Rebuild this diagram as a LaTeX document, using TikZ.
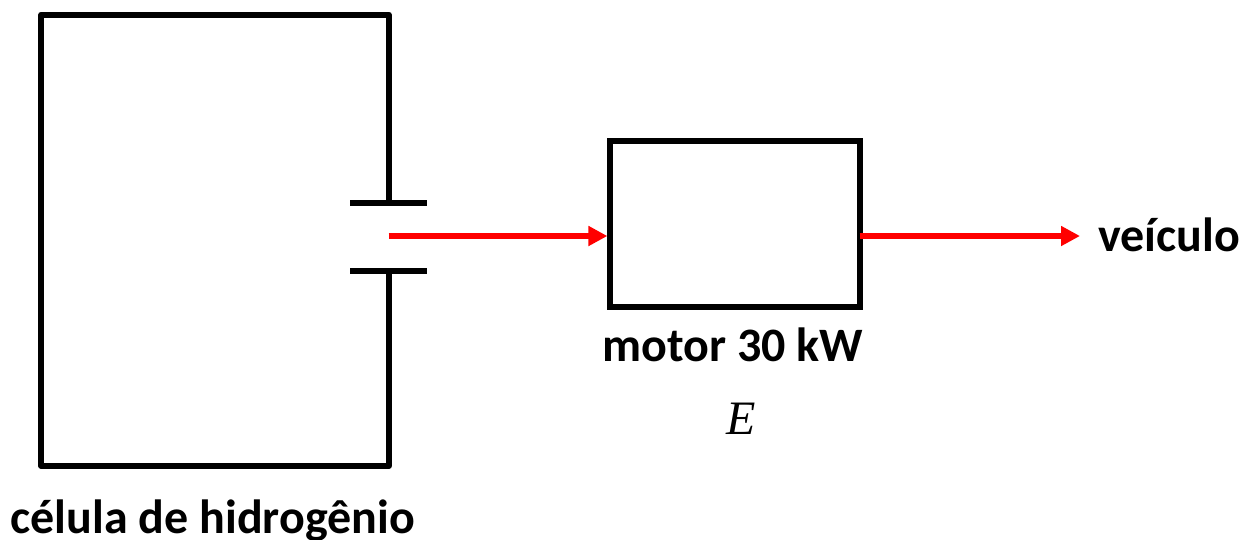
\documentclass[tikz,border=0pt]{standalone}
\usepackage{fontspec}
\setmainfont{Carlito}
\newfontfamily\effserif{Liberation Serif}
\usepackage{xcolor}
\usetikzlibrary{arrows.meta,positioning}
\definecolor{flowRed}{RGB}{255,0,0}
\tikzset{
    wire/.style={black, line width=6pt, line join=round},
    flow/.style={flowRed, line width=6pt, -{Triangle[length=19pt,width=19pt]}},
    lbl/.style={inner sep=0pt, anchor=base, font=\fontsize{48}{52}\selectfont\bfseries}
}
\begin{document}
\begin{tikzpicture}[x=1pt,y=-1pt]
    \useasboundingbox (0,0) rectangle (1243,539);

    % fuel cell
    \coordinate (plateTopL) at (350,202.5);
    \coordinate (plateTopR) at (426.5,202.5);
    \coordinate (plateBotL) at (350,270.5);
    \coordinate (plateBotR) at (426.5,270.5);
    \coordinate (termOut) at (388.5,236);
    \draw[wire] (388.7,202.5)--(388.7,14.5)--(41.3,14.5)--(41.3,465.8)--(388.7,465.8)--(388.7,270.5);
    \draw[wire] (plateTopL)--(plateTopR);
    \draw[wire] (plateBotL)--(plateBotR);

    % motor
    \node[draw=black, line width=6pt, minimum width=249.3pt, minimum height=165.5pt, inner sep=0pt, anchor=north west] (motorBox) at (607.4,138) {};

    % labels
    \node[lbl] (cellLabel) at (212.8,533) {célula de hidrogênio};
    \node[lbl] (motorLabel) at (733,361) {motor 30 kW};
    \node[inner sep=0pt, anchor=base, font=\fontsize{48}{52}\effserif\itshape] (effLabel) at (741.5,434) {E};
    \node[lbl, anchor=base east] (vehLabel) at (1240,251) {veículo};
    \coordinate (vehEnd) at (1080,236);

    % power flow
    \draw[flow] (termOut)--(motorBox.west |- termOut);
    \draw[flow] ([xshift=-3pt]motorBox.east |- vehEnd)--(vehEnd);

\end{tikzpicture}
\end{document}
